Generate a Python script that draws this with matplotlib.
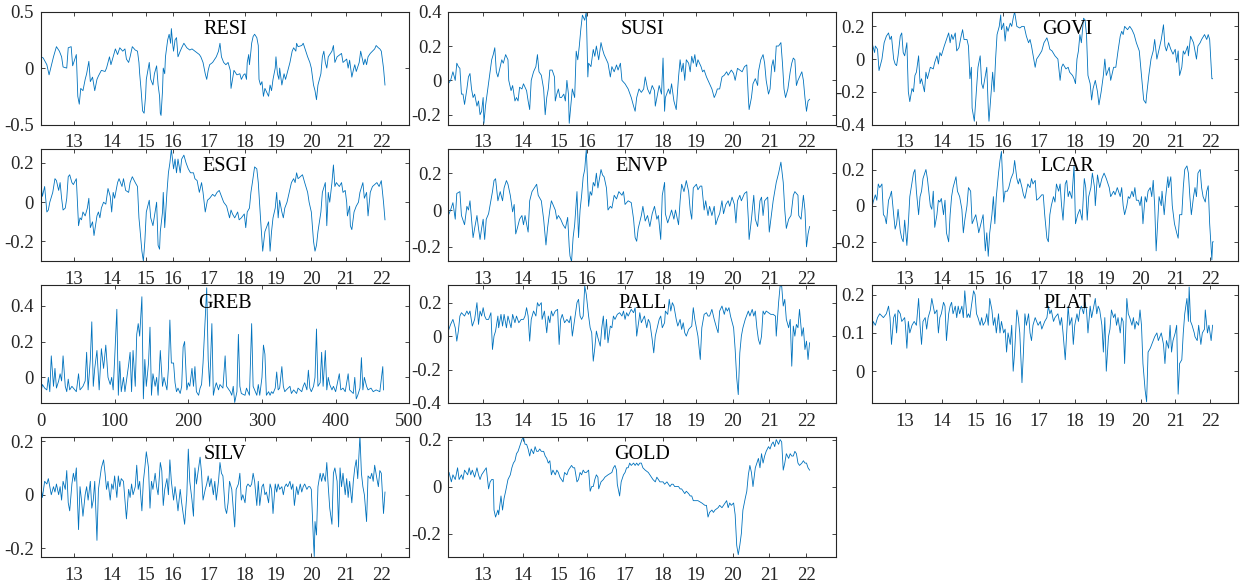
import numpy as np
import matplotlib.pyplot as plt

plt.rcParams['font.family'] = ['Liberation Serif', 'DejaVu Serif']
plt.rcParams['font.size'] = 13.5

# x axis: observation number, labelled by year
year_ticks = [45, 96, 142, 179, 228, 277, 319, 367, 414, 462]
year_labels = ['13', '14', '15', '16', '17', '18', '19', '20', '21', '22']
greb_ticks = [0, 100, 200, 300, 400, 500]

resi = [(0, 0.10), (3, 0.09), (8, 0.03), (11, -0.06), (17, 0.10), (21, 0.19), (25, 0.15), (28, 0.10),
        (30, 0.01), (35, 0.0), (37, 0.18), (41, 0.19), (43, 0.02), (48, 0.12), (50, -0.25), (52, -0.32),
        (54, -0.18), (57, -0.2), (60, -0.1), (62, -0.05), (65, 0.06), (67, -0.12), (70, -0.08), (73, -0.2),
        (76, -0.1), (78, -0.07), (82, -0.02), (87, -0.03), (89, 0.0), (91, 0.05), (93, 0.1), (95, 0.03),
        (98, 0.1), (101, 0.17), (104, 0.12), (107, 0.18), (111, 0.15), (114, 0.17), (116, 0.08), (119, 0.05),
        (121, 0.1), (124, 0.19), (128, 0.16), (131, 0.15), (133, 0.05), (134, -0.05), (136, -0.2), (138, -0.38),
        (140, -0.4), (142, -0.25), (143, -0.1), (147, 0.05), (149, -0.1), (152, -0.15), (154, -0.05), (157, 0.02),
        (159, -0.15), (161, -0.25), (162, -0.4), (163, -0.42), (165, -0.2), (166, 0.0), (168, -0.05), (169, 0.1),
        (172, 0.25), (174, 0.3), (176, 0.22), (177, 0.35), (179, 0.2), (180, 0.15), (182, 0.25), (184, 0.27),
        (186, 0.1), (189, 0.15), (191, 0.18), (194, 0.22), (198, 0.18), (202, 0.16), (205, 0.17), (209, 0.15),
        (211, 0.14), (215, 0.12), (217, 0.1), (220, 0.05), (223, -0.05), (225, -0.1), (227, -0.02), (229, 0.03),
        (233, 0.05), (236, 0.08), (238, 0.1), (241, 0.15), (243, 0.22), (245, 0.1), (248, 0.05), (251, 0.03),
        (254, 0.05), (257, -0.02), (258, -0.18), (260, -0.1), (262, -0.02), (266, -0.06), (270, -0.05),
        (272, -0.1), (275, -0.06), (277, -0.05), (279, -0.1), (280, 0.05), (282, 0.12), (283, 0.03), (285, 0.15),
        (286, 0.22), (288, 0.28), (290, 0.3), (293, 0.27), (295, 0.2), (296, -0.1), (298, -0.15), (300, -0.12),
        (302, -0.25), (304, -0.18), (309, -0.25), (311, -0.15), (313, -0.2), (315, -0.1), (318, 0.0), (319, 0.1),
        (321, -0.05), (323, -0.1), (324, 0.0), (327, -0.15), (330, -0.05), (332, -0.1), (336, 0.0), (338, 0.05),
        (341, 0.15), (343, 0.18), (346, 0.15), (347, 0.22), (349, 0.19), (354, 0.2), (356, 0.22), (358, 0.18),
        (362, 0.1), (365, 0.05), (367, 0.0), (370, -0.15), (372, -0.2), (374, -0.28), (376, -0.15), (378, -0.1),
        (380, -0.05), (382, 0.1), (384, 0.15), (386, 0.05), (388, 0.0), (390, 0.1), (395, 0.15), (397, 0.2),
        (399, 0.05), (402, 0.1), (408, 0.13), (410, 0.05), (415, 0.08), (417, 0.0), (419, 0.07), (422, -0.08),
        (424, -0.02), (426, 0.03), (428, -0.03), (432, 0.05), (434, 0.15), (438, 0.03), (440, 0.08), (442, 0.03),
        (444, 0.1), (447, 0.13), (450, 0.15), (453, 0.17), (455, 0.2), (458, 0.18), (460, 0.17), (462, 0.15),
        (465, 0.0), (467, -0.15)]

susi = [(0, -0.02), (3, 0.0), (6, 0.05), (9, 0.0), (11, 0.1), (13, 0.08), (15, 0.07), (17, -0.08), (19, -0.08),
        (21, -0.14), (24, -0.05), (26, 0.02), (28, 0.04), (30, -0.05), (32, -0.1), (34, -0.08), (37, -0.15),
        (39, -0.12), (41, -0.2), (43, -0.18), (45, -0.1), (46, -0.25), (48, -0.15), (51, -0.05), (54, 0.05),
        (56, 0.12), (58, 0.15), (60, 0.19), (62, 0.05), (64, 0.02), (67, 0.08), (69, 0.12), (71, 0.1), (74, 0.15),
        (77, 0.12), (78, 0.0), (81, -0.06), (83, -0.03), (86, -0.12), (88, -0.1), (90, -0.12), (92, -0.04),
        (95, -0.05), (97, -0.02), (99, -0.04), (101, -0.06), (103, -0.12), (105, -0.17), (107, 0.0), (110, 0.05),
        (113, 0.08), (115, 0.15), (117, 0.05), (120, 0.03), (123, -0.05), (125, -0.2), (127, -0.1), (129, -0.05),
        (131, 0.06), (134, 0.06), (137, 0.02), (138, -0.12), (140, -0.08), (142, -0.05), (144, -0.1), (146, -0.1),
        (149, -0.08), (151, -0.12), (153, 0.0), (155, -0.08), (156, -0.25), (158, -0.15), (160, -0.05),
        (163, -0.1), (165, 0.17), (167, 0.12), (169, 0.2), (171, 0.3), (173, 0.38), (176, 0.35), (178, 0.4),
        (180, 0.02), (181, 0.1), (184, 0.08), (187, 0.18), (189, 0.14), (191, 0.2), (194, 0.12), (197, 0.22),
        (199, 0.18), (201, 0.15), (204, 0.12), (206, 0.1), (209, 0.02), (211, 0.08), (214, 0.05), (217, 0.09),
        (219, 0.06), (222, 0.1), (224, 0.0), (228, -0.02), (232, -0.05), (236, -0.1), (239, -0.15), (241, -0.18),
        (243, -0.1), (246, -0.05), (249, -0.07), (252, -0.05), (254, 0.02), (257, -0.05), (260, -0.08),
        (263, -0.03), (266, -0.06), (267, -0.15), (270, -0.08), (272, -0.03), (275, -0.08), (277, 0.13),
        (279, -0.18), (280, -0.1), (284, -0.05), (286, -0.08), (288, -0.02), (291, -0.12), (294, -0.17),
        (297, 0.02), (299, 0.12), (301, 0.05), (303, 0.1), (305, 0.0), (307, 0.12), (310, 0.1), (312, 0.05),
        (314, 0.14), (316, 0.1), (318, 0.15), (320, 0.08), (322, 0.12), (326, 0.08), (328, 0.05), (330, 0.06),
        (333, 0.02), (335, 0.0), (337, -0.02), (340, -0.05), (343, -0.1), (345, -0.08), (347, -0.05), (350, -0.05),
        (353, 0.02), (356, 0.03), (359, 0.05), (361, 0.03), (365, 0.06), (368, 0.04), (370, 0.0), (373, 0.07),
        (376, 0.06), (379, 0.05), (382, 0.08), (385, 0.09), (387, -0.1), (388, -0.17), (391, -0.1), (393, -0.02),
        (396, 0.01), (399, -0.03), (400, 0.05), (403, 0.12), (406, 0.15), (408, 0.1), (410, 0.0), (413, -0.08),
        (415, -0.05), (417, 0.08), (419, 0.12), (421, 0.05), (423, 0.2), (426, 0.2), (429, 0.22), (431, 0.1),
        (433, -0.05), (435, -0.1), (438, -0.05), (441, 0.05), (443, 0.1), (445, 0.13), (447, 0.12), (449, -0.03),
        (451, 0.0), (456, 0.05), (458, 0.0), (460, -0.1), (462, -0.18), (464, -0.12), (466, -0.11)]

govi = [(1, 0.09), (4, 0.04), (5, 0.08), (8, 0.06), (10, -0.07), (14, 0.0), (17, 0.1), (20, 0.14), (23, 0.16),
        (25, 0.12), (27, 0.14), (30, 0.0), (32, -0.03), (34, -0.04), (36, 0.02), (39, 0.14), (41, 0.16),
        (43, 0.04), (45, 0.02), (48, 0.1), (50, -0.2), (52, -0.26), (55, -0.18), (57, -0.2), (59, -0.1),
        (61, -0.08), (64, 0.02), (66, -0.15), (68, -0.12), (72, -0.2), (74, -0.08), (76, -0.12), (80, -0.05),
        (84, -0.06), (86, -0.02), (89, 0.02), (91, -0.03), (93, 0.04), (95, 0.02), (99, 0.08), (102, 0.12),
        (105, 0.16), (107, 0.1), (109, 0.15), (111, 0.12), (114, 0.16), (116, 0.05), (119, 0.07), (122, 0.14),
        (124, 0.18), (126, 0.12), (130, 0.12), (132, 0.08), (134, -0.12), (136, -0.05), (137, -0.3), (140, -0.38),
        (142, -0.25), (145, -0.05), (148, 0.02), (150, -0.15), (152, -0.18), (155, -0.1), (157, -0.05),
        (159, -0.3), (160, -0.38), (163, -0.2), (165, -0.08), (167, -0.2), (169, 0.0), (171, 0.15), (174, 0.2),
        (176, 0.27), (177, 0.18), (180, 0.22), (182, 0.11), (184, 0.2), (186, 0.17), (189, 0.22), (191, 0.2),
        (193, 0.25), (195, 0.29), (198, 0.2), (202, 0.19), (205, 0.2), (208, 0.2), (211, 0.14), (214, 0.1),
        (216, 0.12), (218, 0.08), (223, -0.05), (225, 0.0), (228, 0.02), (232, 0.05), (235, 0.1), (239, 0.13),
        (241, 0.1), (243, 0.06), (246, 0.05), (250, 0.02), (254, 0.0), (257, -0.13), (259, -0.05), (261, -0.03),
        (265, -0.06), (268, -0.05), (270, -0.08), (274, -0.1), (276, -0.12), (278, -0.15), (280, 0.0),
        (282, 0.05), (284, 0.15), (286, 0.1), (289, 0.25), (291, 0.24), (293, 0.15), (295, -0.1), (298, -0.15),
        (300, -0.25), (302, -0.18), (305, -0.13), (308, -0.2), (310, -0.28), (313, -0.2), (316, -0.1),
        (318, 0.0), (320, -0.1), (324, -0.05), (326, -0.13), (330, -0.05), (333, -0.05), (336, 0.05),
        (339, 0.14), (341, 0.17), (343, 0.15), (345, 0.2), (349, 0.18), (352, 0.2), (355, 0.18), (358, 0.15),
        (361, 0.1), (365, 0.05), (367, -0.05), (369, -0.15), (371, -0.25), (374, -0.27), (375, -0.22),
        (378, -0.1), (381, 0.0), (384, 0.05), (386, 0.12), (389, 0.0), (392, 0.06), (395, 0.12), (398, 0.21),
        (400, 0.08), (402, 0.05), (405, 0.1), (408, 0.06), (411, 0.03), (414, 0.06), (416, -0.02), (418, 0.05),
        (420, -0.1), (423, -0.05), (425, 0.05), (427, 0.03), (431, 0.08), (432, 0.02), (435, 0.14), (439, 0.1),
        (441, 0.05), (443, 0.0), (445, 0.08), (448, 0.1), (450, 0.12), (454, 0.15), (457, 0.12), (459, 0.15),
        (461, 0.12), (464, -0.12), (465, -0.12)]

esgi = [(0, 0.09), (2, 0.03), (5, 0.08), (8, -0.05), (10, -0.04), (12, 0.0), (16, 0.05), (19, 0.12), (21, 0.11),
        (24, 0.06), (26, 0.1), (28, 0.02), (30, -0.04), (33, -0.03), (35, 0.02), (37, 0.13), (39, 0.14),
        (42, 0.1), (44, 0.09), (48, 0.12), (51, -0.12), (53, -0.08), (55, -0.09), (57, -0.05), (60, -0.07),
        (63, -0.03), (65, 0.02), (67, -0.13), (70, -0.1), (72, -0.17), (76, -0.07), (78, -0.05), (80, -0.08),
        (82, -0.03), (85, 0.0), (88, -0.01), (91, 0.07), (94, 0.03), (96, -0.05), (98, 0.05), (100, 0.02),
        (104, 0.1), (106, 0.12), (110, 0.08), (112, 0.12), (115, 0.06), (119, 0.05), (121, 0.1), (124, 0.13),
        (128, 0.1), (131, 0.08), (133, -0.08), (134, -0.12), (137, -0.25), (139, -0.3), (141, -0.2), (143, -0.05),
        (147, 0.01), (149, -0.08), (152, -0.12), (155, -0.05), (157, 0.0), (159, -0.22), (161, -0.24),
        (162, -0.15), (165, -0.05), (166, 0.05), (168, -0.13), (171, 0.05), (173, 0.15), (175, 0.2), (177, 0.27),
        (180, 0.17), (182, 0.22), (184, 0.15), (186, 0.22), (189, 0.15), (191, 0.22), (194, 0.24), (197, 0.2),
        (200, 0.17), (203, 0.15), (207, 0.15), (209, 0.12), (212, 0.11), (215, 0.05), (218, 0.1), (220, 0.05),
        (223, -0.05), (226, 0.01), (229, 0.02), (233, 0.04), (236, 0.03), (239, 0.05), (242, 0.06), (245, 0.03),
        (248, 0.0), (252, -0.02), (256, -0.08), (258, -0.04), (260, -0.06), (263, -0.08), (267, -0.05),
        (269, -0.09), (272, -0.08), (276, -0.06), (278, -0.13), (280, -0.05), (283, -0.03), (285, 0.05),
        (287, 0.1), (290, 0.18), (293, 0.17), (295, 0.1), (298, -0.08), (301, -0.25), (304, -0.15), (306, -0.13),
        (309, -0.1), (311, -0.25), (313, -0.15), (315, -0.08), (318, -0.03), (320, 0.05), (322, -0.08),
        (324, 0.01), (327, -0.05), (329, -0.08), (331, -0.03), (334, 0.0), (337, 0.05), (340, 0.1), (343, 0.12),
        (345, 0.1), (347, 0.15), (349, 0.12), (352, 0.13), (355, 0.14), (358, 0.1), (362, 0.05), (364, 0.0),
        (367, -0.05), (370, -0.2), (372, -0.25), (374, -0.22), (376, -0.15), (380, -0.05), (382, 0.05),
        (386, 0.1), (388, -0.12), (390, 0.05), (392, 0.0), (395, 0.1), (397, 0.19), (399, 0.08), (401, 0.1),
        (405, 0.08), (408, 0.1), (410, 0.05), (413, 0.06), (415, 0.0), (416, -0.07), (419, -0.02), (420, -0.12),
        (422, -0.14), (425, -0.05), (428, -0.02), (431, 0.0), (433, 0.05), (437, 0.1), (439, 0.02), (442, 0.05),
        (444, -0.07), (447, 0.05), (450, 0.08), (453, 0.09), (456, 0.1), (459, 0.08), (462, 0.11), (465, 0.0),
        (467, -0.09)]

envp = [(0, -0.03), (3, 0.0), (6, 0.04), (9, -0.05), (11, 0.09), (15, 0.1), (17, -0.03), (21, -0.08), (24, 0.02),
        (26, 0.0), (28, 0.05), (30, -0.05), (32, -0.15), (34, -0.1), (37, -0.03), (39, -0.1), (41, -0.16),
        (43, -0.1), (45, -0.05), (47, -0.16), (49, -0.05), (52, -0.02), (55, 0.05), (57, 0.1), (59, 0.16),
        (61, 0.17), (64, 0.05), (67, 0.1), (70, 0.05), (72, 0.12), (75, 0.16), (77, 0.14), (80, 0.08), (83, -0.01),
        (85, 0.03), (87, -0.13), (89, -0.1), (92, -0.05), (95, -0.03), (97, -0.08), (99, -0.03), (103, -0.12),
        (105, 0.05), (108, 0.1), (111, 0.12), (114, 0.14), (116, 0.08), (120, 0.05), (123, -0.05), (126, -0.19),
        (128, -0.1), (131, 0.0), (133, 0.05), (135, 0.03), (138, 0.0), (140, -0.05), (142, -0.03), (145, -0.05),
        (148, -0.08), (151, -0.1), (154, -0.04), (156, -0.2), (157, -0.25), (159, -0.28), (161, -0.15),
        (163, -0.08), (166, 0.1), (168, -0.15), (170, 0.0), (172, 0.08), (174, 0.18), (176, 0.22), (178, 0.33),
        (181, 0.02), (183, 0.1), (185, 0.08), (187, 0.15), (189, 0.13), (191, 0.2), (193, 0.12), (197, 0.22),
        (199, 0.19), (201, 0.18), (204, 0.12), (206, 0.0), (209, 0.02), (211, 0.01), (214, 0.08), (217, 0.06),
        (220, 0.1), (224, 0.08), (226, 0.1), (228, 0.03), (232, 0.05), (236, 0.04), (239, -0.05), (241, -0.15),
        (243, -0.17), (245, -0.1), (249, -0.03), (251, 0.02), (254, -0.06), (257, -0.03), (260, -0.09),
        (263, -0.02), (266, 0.02), (269, -0.05), (271, -0.03), (274, -0.16), (276, 0.08), (279, 0.15),
        (280, -0.02), (283, -0.07), (286, -0.03), (288, 0.0), (291, -0.05), (293, 0.0), (297, -0.08), (299, 0.05),
        (301, 0.14), (304, 0.1), (307, 0.16), (310, 0.1), (312, 0.0), (314, -0.05), (316, 0.12), (318, 0.13),
        (320, 0.14), (322, 0.11), (325, 0.13), (327, 0.13), (330, 0.0), (332, 0.05), (335, -0.03), (337, 0.02),
        (340, -0.03), (343, 0.02), (345, -0.08), (348, -0.04), (350, -0.02), (353, 0.05), (355, -0.02),
        (358, 0.03), (361, 0.05), (363, 0.02), (366, 0.07), (369, 0.03), (371, -0.07), (373, 0.05), (376, 0.08),
        (378, 0.05), (382, 0.09), (385, 0.1), (387, -0.05), (388, -0.16), (391, -0.05), (394, 0.08), (396, -0.05),
        (399, -0.09), (402, 0.05), (404, 0.07), (406, -0.03), (408, 0.05), (412, 0.07), (414, -0.12),
        (416, -0.05), (419, 0.05), (421, 0.1), (423, 0.15), (426, 0.2), (429, 0.26), (432, 0.15), (434, 0.0),
        (436, -0.1), (439, -0.05), (442, -0.03), (445, 0.08), (447, 0.1), (451, 0.08), (452, -0.03), (455, -0.05),
        (458, 0.08), (460, 0.0), (462, -0.2), (464, -0.13), (466, -0.09)]

lcar = [(0, -0.02), (2, 0.02), (5, 0.06), (7, 0.03), (9, 0.12), (11, 0.1), (14, 0.12), (16, -0.05), (18, -0.06),
        (20, -0.1), (23, 0.03), (25, 0.05), (27, 0.08), (30, -0.05), (32, -0.13), (34, -0.1), (36, -0.02),
        (39, -0.14), (41, -0.18), (43, -0.2), (45, -0.08), (48, -0.22), (50, -0.1), (52, 0.05), (55, 0.13),
        (57, 0.18), (59, 0.2), (61, 0.08), (64, -0.05), (66, 0.05), (68, 0.08), (70, 0.15), (74, 0.2), (76, 0.15),
        (80, 0.0), (82, -0.02), (84, 0.08), (86, -0.12), (89, -0.05), (91, 0.03), (93, 0.02), (95, 0.04),
        (98, -0.05), (100, 0.03), (102, -0.15), (105, -0.2), (107, -0.05), (109, 0.05), (111, 0.1), (115, 0.16),
        (117, 0.08), (120, 0.05), (123, -0.02), (125, -0.15), (127, -0.08), (130, 0.0), (132, 0.1), (135, 0.08),
        (137, -0.1), (140, -0.07), (142, -0.05), (145, -0.12), (146, -0.15), (149, -0.1), (152, -0.05),
        (155, -0.25), (157, -0.15), (159, -0.28), (161, -0.15), (164, -0.05), (166, 0.05), (168, -0.1),
        (170, 0.05), (173, 0.18), (175, 0.25), (177, 0.3), (180, 0.02), (182, 0.08), (185, 0.08), (187, 0.1),
        (190, 0.15), (193, 0.18), (195, 0.25), (198, 0.15), (200, 0.12), (202, 0.15), (205, 0.1), (207, 0.06),
        (209, 0.04), (213, 0.12), (216, 0.1), (218, 0.15), (220, 0.12), (223, 0.14), (225, 0.03), (228, 0.04),
        (232, 0.06), (234, 0.06), (236, -0.05), (239, -0.18), (241, -0.2), (243, -0.05), (245, 0.0), (248, 0.05),
        (250, 0.02), (252, 0.12), (255, 0.08), (257, 0.12), (259, 0.0), (261, -0.08), (264, 0.12), (266, 0.14),
        (268, 0.05), (270, 0.08), (273, 0.04), (276, 0.22), (278, -0.1), (281, -0.05), (284, -0.02), (287, -0.08),
        (290, 0.15), (292, 0.1), (294, -0.08), (296, 0.05), (299, 0.1), (301, 0.18), (304, 0.1), (305, 0.0),
        (308, 0.17), (311, 0.1), (314, 0.15), (317, 0.18), (320, 0.15), (324, 0.1), (326, 0.05), (330, 0.08),
        (332, 0.06), (335, 0.1), (339, 0.05), (341, 0.1), (343, 0.0), (345, -0.05), (348, 0.0), (350, 0.05),
        (352, 0.04), (355, 0.08), (357, 0.05), (359, 0.1), (361, 0.03), (364, 0.03), (366, 0.0), (368, 0.05),
        (370, -0.1), (373, 0.05), (375, 0.02), (377, 0.08), (380, 0.1), (382, 0.05), (384, 0.14), (386, 0.0),
        (388, -0.25), (390, -0.1), (392, 0.05), (395, 0.0), (396, 0.08), (399, -0.05), (401, 0.05), (404, 0.16),
        (405, 0.1), (408, 0.16), (410, 0.0), (413, -0.1), (416, -0.15), (418, -0.18), (420, -0.05), (423, -0.05),
        (425, 0.1), (427, 0.2), (430, 0.22), (432, 0.18), (434, 0.05), (436, -0.05), (439, 0.05), (441, 0.1),
        (443, 0.05), (445, 0.18), (448, 0.2), (450, 0.1), (452, 0.05), (455, 0.02), (457, 0.08), (459, 0.11),
        (461, -0.1), (464, -0.3), (465, -0.2), (466, -0.2)]

greb = [(0, -0.08), (2, -0.04), (5, -0.06), (8, -0.07), (10, 0.0), (12, -0.08), (14, 0.12), (17, -0.05),
        (19, 0.05), (21, -0.06), (24, -0.02), (26, 0.02), (28, -0.02), (30, 0.12), (33, -0.05), (35, -0.08),
        (37, -0.01), (39, -0.07), (42, -0.05), (44, -0.06), (48, -0.08), (51, 0.02), (53, -0.07), (57, -0.05),
        (60, -0.02), (62, 0.14), (64, -0.07), (67, 0.1), (69, 0.31), (71, -0.05), (73, 0.05), (76, 0.15),
        (79, -0.07), (82, 0.16), (85, 0.05), (88, 0.18), (91, 0.0), (94, -0.04), (96, 0.0), (98, -0.07),
        (100, 0.1), (103, 0.38), (105, -0.1), (107, 0.09), (109, -0.08), (112, 0.0), (114, -0.08), (119, 0.07),
        (121, 0.14), (123, -0.08), (125, 0.15), (128, -0.05), (130, 0.24), (132, 0.3), (134, 0.23), (137, 0.45),
        (139, -0.12), (141, 0.1), (143, -0.05), (146, 0.08), (148, 0.28), (150, -0.1), (152, 0.02), (155, -0.05),
        (157, 0.0), (159, -0.1), (162, 0.15), (165, -0.05), (167, 0.0), (171, -0.07), (173, 0.05), (175, 0.32),
        (177, 0.08), (180, 0.08), (182, -0.03), (184, -0.08), (186, -0.06), (189, -0.09), (191, -0.05),
        (193, 0.17), (195, 0.2), (198, -0.07), (200, -0.03), (202, -0.05), (205, 0.05), (207, -0.05), (209, 0.06),
        (211, -0.08), (214, -0.1), (216, -0.06), (218, -0.04), (220, 0.08), (223, 0.33), (225, 0.5), (227, 0.1),
        (229, -0.05), (232, 0.3), (234, -0.1), (236, -0.06), (238, -0.03), (241, -0.07), (243, -0.04),
        (247, -0.06), (250, 0.12), (252, -0.05), (257, -0.08), (259, -0.1), (261, -0.05), (263, -0.14),
        (266, -0.08), (268, 0.24), (270, -0.05), (272, -0.09), (277, -0.1), (279, -0.06), (283, -0.1), (286, 0.3),
        (288, -0.05), (290, -0.07), (293, -0.1), (295, -0.04), (297, -0.1), (300, 0.0), (302, 0.18), (304, 0.13),
        (306, -0.1), (309, -0.08), (311, -0.1), (313, -0.08), (315, -0.09), (318, -0.06), (320, 0.03),
        (322, -0.07), (324, -0.06), (327, 0.06), (329, -0.05), (331, -0.08), (333, -0.07), (338, -0.05),
        (340, -0.09), (343, -0.07), (345, -0.08), (347, -0.09), (349, -0.06), (354, -0.08), (356, -0.05),
        (358, -0.03), (361, -0.07), (363, 0.04), (365, -0.06), (367, -0.08), (370, -0.05), (372, 0.0),
        (374, 0.27), (376, -0.05), (379, -0.03), (381, 0.14), (383, -0.05), (386, 0.15), (388, -0.07), (390, 0.0),
        (392, -0.04), (395, -0.07), (397, -0.05), (400, -0.08), (402, -0.04), (405, 0.02), (407, -0.07),
        (410, -0.06), (413, -0.08), (417, 0.02), (419, -0.07), (424, -0.09), (426, 0.0), (428, -0.12),
        (430, -0.1), (433, -0.06), (435, 0.11), (437, -0.07), (439, 0.0), (442, -0.05), (444, -0.07),
        (448, -0.06), (451, -0.08), (455, -0.07), (460, -0.08), (464, 0.06), (465, -0.07)]

pall = [(0, 0.03), (3, 0.07), (6, 0.1), (9, 0.05), (11, -0.03), (13, 0.03), (15, 0.12), (17, 0.14), (21, 0.12),
        (24, 0.15), (26, 0.13), (28, 0.15), (31, 0.06), (34, 0.1), (37, 0.2), (39, 0.07), (41, 0.15), (43, 0.12),
        (45, 0.17), (47, 0.12), (49, 0.1), (52, 0.1), (55, 0.14), (57, -0.08), (59, 0.0), (61, 0.03), (64, 0.12),
        (65, 0.05), (68, 0.13), (70, 0.06), (72, 0.13), (75, 0.05), (77, 0.12), (81, 0.05), (83, 0.13), (86, 0.08),
        (88, 0.12), (91, 0.08), (94, 0.1), (97, 0.1), (99, 0.12), (101, 0.17), (103, 0.12), (105, -0.03),
        (107, 0.1), (110, 0.15), (113, 0.12), (115, 0.2), (117, 0.18), (120, 0.2), (121, 0.1), (124, 0.15),
        (127, 0.02), (129, 0.12), (131, 0.08), (133, 0.15), (135, 0.12), (138, 0.15), (141, 0.16), (143, -0.05),
        (145, 0.1), (147, 0.13), (150, 0.08), (153, 0.1), (156, 0.08), (158, 0.12), (160, 0.0), (163, 0.1),
        (166, 0.2), (168, 0.22), (170, 0.12), (172, 0.1), (174, 0.12), (176, 0.3), (178, 0.25), (181, 0.12),
        (183, 0.05), (185, 0.02), (187, -0.15), (189, -0.07), (191, 0.03), (193, -0.01), (196, -0.06), (198, 0.05),
        (200, 0.12), (202, -0.02), (204, 0.1), (206, -0.04), (209, 0.06), (211, 0.05), (213, 0.12), (215, 0.1),
        (218, 0.13), (221, 0.14), (224, 0.12), (226, 0.15), (228, 0.1), (230, 0.14), (232, 0.12), (236, 0.16),
        (239, 0.14), (241, 0.17), (243, 0.0), (246, 0.1), (247, 0.14), (249, 0.08), (253, 0.12), (256, 0.05),
        (258, 0.1), (260, 0.08), (263, -0.02), (265, -0.1), (267, 0.0), (270, 0.06), (272, 0.1), (274, 0.12),
        (276, 0.05), (279, 0.08), (280, 0.15), (283, 0.13), (285, 0.22), (287, 0.15), (289, 0.2), (291, 0.18),
        (294, 0.1), (296, 0.06), (299, 0.1), (301, 0.04), (303, 0.08), (305, 0.02), (307, 0.0), (310, 0.04),
        (314, 0.06), (316, 0.17), (318, 0.1), (320, 0.05), (322, 0.0), (325, -0.14), (327, 0.05), (330, 0.13),
        (333, 0.14), (335, 0.12), (337, 0.12), (340, 0.16), (343, 0.1), (346, 0.05), (348, 0.02), (350, 0.15),
        (353, 0.18), (356, 0.13), (358, 0.17), (360, 0.15), (362, 0.17), (364, 0.12), (368, 0.05), (370, -0.08),
        (372, -0.25), (374, -0.35), (376, -0.1), (378, 0.0), (380, 0.05), (383, 0.1), (387, 0.15), (389, 0.12),
        (392, 0.16), (394, 0.12), (396, 0.15), (398, 0.05), (400, -0.02), (402, -0.05), (404, 0.0), (406, 0.15),
        (408, 0.13), (410, 0.15), (413, 0.14), (416, 0.13), (419, 0.13), (422, 0.12), (423, 0.0), (426, 0.2),
        (428, 0.3), (430, 0.3), (432, 0.18), (434, 0.22), (436, 0.1), (439, 0.05), (441, 0.1), (443, -0.18),
        (445, 0.06), (447, 0.0), (449, 0.07), (451, 0.05), (453, 0.16), (456, 0.0), (458, 0.05), (460, -0.08),
        (462, -0.03), (464, -0.14), (466, -0.04)]

plat = [(0, 0.14), (1, 0.11), (2, 0.13), (5, 0.12), (8, 0.14), (11, 0.15), (16, 0.14), (20, 0.15), (23, 0.17),
        (25, 0.14), (27, 0.07), (30, 0.14), (32, 0.15), (34, 0.1), (36, 0.16), (39, 0.15), (41, 0.13), (45, 0.14),
        (46, 0.12), (48, 0.06), (50, 0.13), (52, 0.1), (55, 0.12), (58, 0.13), (61, 0.12), (64, 0.19), (66, 0.12),
        (68, 0.07), (70, 0.13), (73, 0.14), (75, 0.11), (77, 0.14), (80, 0.16), (82, 0.19), (84, 0.17), (86, 0.15),
        (89, 0.16), (91, 0.1), (93, 0.14), (95, 0.15), (98, 0.18), (100, 0.17), (102, 0.08), (105, 0.15),
        (107, 0.17), (109, 0.18), (111, 0.15), (114, 0.17), (116, 0.14), (118, 0.17), (120, 0.15), (123, 0.17),
        (125, 0.14), (127, 0.21), (130, 0.14), (132, 0.15), (134, 0.14), (136, 0.17), (139, 0.21), (141, 0.2),
        (143, 0.15), (145, 0.14), (148, 0.12), (150, 0.14), (152, 0.12), (155, 0.13), (157, 0.15), (159, 0.12),
        (161, 0.19), (164, 0.16), (166, 0.12), (168, 0.14), (170, 0.1), (173, 0.15), (175, 0.1), (177, 0.13),
        (180, 0.1), (182, 0.11), (184, 0.05), (186, 0.1), (189, 0.07), (191, 0.12), (193, 0.0), (195, 0.05),
        (198, 0.16), (200, 0.14), (202, 0.1), (205, -0.03), (207, 0.05), (209, 0.15), (211, 0.12), (214, 0.15),
        (216, 0.1), (218, 0.08), (220, 0.12), (223, 0.14), (225, 0.13), (227, 0.12), (230, 0.13), (232, 0.11),
        (234, 0.12), (236, 0.13), (239, 0.14), (241, 0.17), (243, 0.15), (245, 0.16), (248, 0.13), (250, 0.14),
        (254, 0.15), (257, 0.12), (259, 0.14), (261, 0.1), (264, 0.03), (266, 0.1), (268, 0.17), (270, 0.12),
        (273, 0.14), (275, 0.07), (277, 0.12), (280, 0.15), (282, 0.13), (284, 0.16), (286, 0.17), (289, 0.15),
        (291, 0.18), (293, 0.16), (295, 0.1), (298, 0.17), (300, 0.14), (302, 0.16), (305, 0.19), (307, 0.15),
        (309, 0.17), (311, 0.16), (314, 0.12), (316, 0.05), (318, 0.14), (320, 0.0), (323, 0.09), (325, 0.11),
        (327, 0.16), (330, 0.14), (332, 0.15), (334, 0.12), (336, 0.14), (339, 0.1), (341, 0.14), (343, 0.13),
        (345, 0.02), (348, 0.19), (350, 0.15), (352, 0.14), (355, 0.12), (357, 0.14), (359, 0.11), (361, 0.13),
        (364, 0.12), (366, 0.16), (368, 0.12), (370, 0.02), (373, -0.05), (375, -0.08), (377, 0.05), (380, 0.06),
        (382, 0.07), (384, 0.08), (386, 0.09), (389, 0.1), (391, 0.08), (393, 0.09), (395, 0.1), (398, 0.07),
        (400, 0.02), (402, 0.08), (405, 0.06), (407, 0.12), (409, 0.05), (411, 0.08), (414, 0.1), (416, 0.12),
        (418, -0.06), (420, 0.02), (423, 0.03), (425, 0.1), (427, 0.15), (430, 0.19), (432, 0.13), (433, 0.22),
        (435, 0.13), (437, 0.12), (440, 0.1), (441, 0.09), (444, 0.08), (446, 0.12), (449, 0.07), (451, 0.1),
        (454, 0.11), (455, 0.16), (458, 0.1), (460, 0.12), (463, 0.08), (465, 0.12)]

silv = [(0, 0.03), (2, -0.01), (5, 0.05), (8, 0.04), (10, 0.06), (12, 0.03), (14, 0.0), (17, 0.03), (19, 0.01),
        (21, 0.04), (24, 0.0), (26, 0.03), (28, -0.02), (30, 0.05), (33, 0.02), (35, 0.09), (37, -0.03),
        (39, -0.06), (42, 0.04), (44, 0.08), (46, 0.05), (48, 0.1), (51, -0.13), (53, 0.03), (55, -0.02),
        (57, -0.08), (60, 0.0), (62, 0.03), (64, -0.02), (67, 0.05), (69, -0.05), (71, -0.02), (73, 0.05),
        (76, -0.17), (78, 0.02), (80, 0.06), (82, 0.1), (85, 0.13), (87, 0.08), (89, 0.02), (91, 0.05),
        (94, -0.02), (96, 0.04), (98, 0.02), (100, 0.07), (103, -0.01), (105, 0.07), (107, 0.03), (109, 0.06),
        (112, 0.05), (114, -0.02), (116, -0.09), (119, 0.02), (121, -0.01), (123, 0.04), (125, 0.0), (128, 0.03),
        (130, 0.11), (132, 0.02), (134, 0.05), (137, -0.06), (139, 0.05), (141, 0.1), (143, 0.16), (146, 0.1),
        (148, -0.05), (150, 0.05), (152, 0.02), (155, 0.08), (157, 0.03), (159, 0.0), (162, 0.12), (164, 0.09),
        (166, -0.04), (168, 0.02), (171, 0.06), (173, 0.0), (175, 0.13), (177, 0.05), (180, -0.02), (182, 0.03),
        (184, -0.01), (186, -0.06), (189, 0.02), (191, -0.03), (193, -0.07), (195, -0.11), (198, 0.0), (200, 0.17),
        (202, 0.05), (205, -0.02), (207, -0.08), (209, 0.1), (211, 0.04), (214, 0.1), (216, 0.14), (218, 0.08),
        (220, -0.02), (223, 0.02), (225, 0.04), (227, 0.07), (229, 0.03), (231, 0.06), (234, 0.0), (236, 0.05),
        (238, -0.02), (241, 0.05), (243, 0.12), (245, 0.08), (247, 0.07), (250, -0.05), (252, -0.07), (254, -0.03),
        (256, 0.05), (259, 0.02), (261, -0.05), (263, -0.12), (265, 0.02), (268, 0.04), (270, 0.08), (272, -0.02),
        (274, 0.0), (277, -0.03), (279, 0.03), (281, 0.04), (284, 0.03), (286, 0.04), (288, 0.08), (290, 0.05),
        (293, -0.04), (295, 0.05), (297, -0.04), (300, 0.03), (302, 0.04), (304, 0.0), (306, 0.01), (309, -0.03),
        (311, 0.04), (313, 0.02), (315, -0.07), (318, 0.04), (320, 0.01), (322, 0.04), (324, 0.02), (327, 0.03),
        (329, 0.0), (331, 0.03), (333, 0.04), (335, 0.03), (338, 0.05), (340, 0.02), (342, 0.04), (344, -0.04),
        (347, 0.03), (349, 0.0), (352, 0.04), (354, 0.01), (356, 0.03), (358, 0.04), (361, 0.02), (363, 0.03),
        (365, 0.03), (367, 0.02), (370, -0.18), (371, -0.23), (372, -0.1), (374, -0.15), (376, 0.03), (379, 0.08),
        (381, 0.05), (383, 0.08), (386, 0.05), (388, 0.12), (390, 0.03), (392, -0.05), (395, -0.11), (397, 0.08),
        (399, 0.1), (402, 0.05), (404, -0.12), (406, 0.1), (408, 0.03), (410, 0.08), (413, 0.0), (415, 0.06),
        (417, -0.01), (419, 0.05), (422, -0.03), (424, 0.05), (426, 0.1), (428, 0.13), (430, 0.06), (433, 0.22),
        (435, 0.08), (437, 0.03), (439, 0.0), (442, -0.1), (444, 0.07), (447, 0.06), (449, 0.08), (451, 0.05),
        (453, 0.11), (456, 0.06), (458, 0.03), (460, 0.09), (462, 0.08), (465, -0.07), (467, 0.01)]

gold = [(1, 0.06), (4, 0.02), (6, 0.05), (9, 0.03), (12, 0.08), (14, 0.03), (17, 0.05), (19, 0.03), (21, 0.07),
        (25, 0.05), (27, 0.08), (29, 0.05), (31, 0.07), (34, 0.04), (37, 0.08), (39, 0.05), (41, 0.03), (43, 0.05),
        (45, 0.06), (47, 0.07), (49, 0.08), (52, -0.01), (54, 0.02), (56, 0.03), (58, 0.03), (59, -0.1),
        (61, -0.13), (64, -0.1), (65, -0.12), (68, -0.04), (70, -0.1), (72, -0.05), (74, -0.02), (77, 0.03),
        (80, 0.05), (82, 0.08), (84, 0.1), (86, 0.11), (88, 0.14), (90, 0.15), (92, 0.17), (95, 0.2), (97, 0.21),
        (99, 0.18), (101, 0.18), (103, 0.16), (105, 0.13), (107, 0.16), (110, 0.14), (112, 0.17), (114, 0.15),
        (116, 0.15), (118, 0.16), (120, 0.15), (123, 0.15), (125, 0.13), (127, 0.12), (129, 0.1), (131, 0.11),
        (133, 0.05), (135, 0.07), (138, 0.05), (140, 0.07), (142, 0.06), (144, 0.04), (146, 0.03), (148, 0.02),
        (150, 0.06), (153, 0.05), (155, 0.07), (157, 0.08), (159, 0.09), (161, 0.08), (163, 0.08), (166, 0.02),
        (168, 0.03), (170, 0.06), (172, 0.05), (174, 0.07), (176, 0.06), (178, 0.06), (181, 0.07), (183, -0.02),
        (185, 0.0), (187, 0.0), (189, 0.03), (191, 0.05), (193, 0.04), (194, -0.01), (197, 0.02), (200, 0.03),
        (202, 0.04), (206, 0.05), (211, 0.06), (213, 0.08), (215, 0.09), (217, 0.07), (218, 0.01), (221, -0.04),
        (223, 0.02), (226, 0.05), (228, 0.06), (230, 0.08), (232, 0.08), (234, 0.1), (236, 0.09), (239, 0.1),
        (241, 0.09), (243, 0.1), (245, 0.09), (247, 0.1), (249, 0.1), (251, 0.08), (254, 0.07), (258, 0.06),
        (262, 0.04), (264, 0.03), (267, 0.02), (269, 0.04), (271, 0.03), (273, 0.02), (277, 0.02), (279, 0.01),
        (282, 0.02), (284, 0.01), (286, 0.0), (288, 0.01), (290, 0.01), (292, 0.0), (297, 0.0), (299, -0.01),
        (301, -0.01), (305, -0.03), (307, -0.02), (310, -0.03), (312, -0.04), (314, -0.04), (316, -0.06),
        (318, -0.06), (322, -0.06), (327, -0.07), (331, -0.08), (333, -0.08), (335, -0.13), (337, -0.11),
        (340, -0.1), (342, -0.11), (344, -0.1), (348, -0.09), (350, -0.08), (353, -0.09), (355, -0.08),
        (357, -0.07), (359, -0.06), (361, -0.09), (363, -0.07), (365, -0.08), (368, -0.07), (370, -0.12),
        (372, -0.25), (374, -0.29), (376, -0.25), (378, -0.2), (380, -0.1), (383, -0.05), (385, -0.02), (387, 0.05),
        (389, 0.09), (391, 0.06), (393, 0.0), (396, 0.08), (398, 0.1), (400, 0.12), (402, 0.08), (404, 0.14),
        (406, 0.1), (408, 0.13), (410, 0.15), (413, 0.17), (415, 0.16), (417, 0.18), (419, 0.19), (421, 0.17),
        (423, 0.2), (426, 0.18), (428, 0.2), (430, 0.19), (432, 0.07), (434, 0.1), (436, 0.14), (439, 0.12),
        (441, 0.14), (443, 0.13), (445, 0.13), (447, 0.15), (449, 0.14), (451, 0.1), (453, 0.09), (456, 0.1),
        (458, 0.11), (460, 0.1), (462, 0.1), (464, 0.08), (466, 0.07)]

names = ['RESI', 'SUSI', 'GOVI', 'ESGI', 'ENVP', 'LCAR', 'GREB', 'PALL', 'PLAT', 'SILV', 'GOLD']
series = [resi, susi, govi, esgi, envp, lcar, greb, pall, plat, silv, gold]
ylims = [(-0.5, 0.5), (-0.257, 0.4), (-0.4, 0.29), (-0.3, 0.27), (-0.277, 0.33), (-0.306, 0.312),
         (-0.143, 0.513), (-0.4, 0.303), (-0.083, 0.224), (-0.232, 0.215), (-0.3, 0.211)]
yticks = [[-0.5, 0, 0.5], [-0.2, 0, 0.2, 0.4], [-0.4, -0.2, 0, 0.2], [-0.2, 0, 0.2], [-0.2, 0, 0.2],
          [-0.2, 0, 0.2], [0, 0.2, 0.4], [-0.4, -0.2, 0, 0.2], [0, 0.1, 0.2], [-0.2, 0, 0.2], [-0.2, 0, 0.2]]

cols = [(0.0328, 0.2949), (0.3589, 0.3104), (0.6979, 0.2935)]
rows = [(0.7879, 0.1922), (0.5554, 0.1903), (0.3135, 0.2002), (0.0511, 0.2044)]
title_x = [0.5, 0.5, 0.533]

axcol = '#262626'
fig = plt.figure(figsize=(12.49, 5.87), dpi=100)

for i, name in enumerate(names):
    r, c = divmod(i, 3)
    ax = fig.add_axes([cols[c][0], rows[r][0], cols[c][1], rows[r][1]])
    t, v = zip(*series[i])
    ax.plot(t, v, color='#0072BD', lw=0.6)

    ax.set_xlim(0, 500)
    ax.set_ylim(*ylims[i])
    if name == 'GREB':
        ax.set_xticks(greb_ticks)
        ax.set_xticklabels([str(k) for k in greb_ticks])
    else:
        ax.set_xticks(year_ticks)
        ax.set_xticklabels(year_labels)
    ax.set_yticks(yticks[i])
    ax.set_yticklabels([f'{y:g}' for y in yticks[i]])

    ax.tick_params(direction='in', top=True, right=True, length=3, width=0.6,
                   colors=axcol, labelsize=13.5)
    ax.tick_params(axis='x', pad=7)
    ax.tick_params(axis='y', pad=5)
    for s in ax.spines.values():
        s.set_linewidth(0.8)
        s.set_color(axcol)

    ax.text(title_x[c], 0.93, name, transform=ax.transAxes, ha='center', va='top',
            fontsize=14.5, color='black')

fig.savefig('out.png', dpi=100)
